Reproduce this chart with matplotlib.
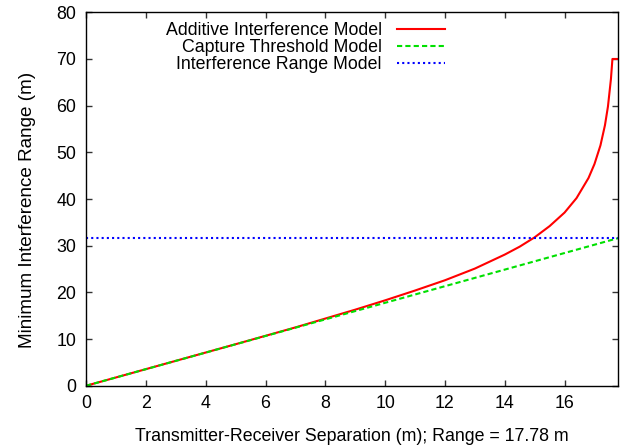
import matplotlib
matplotlib.use("Agg")
import matplotlib.pyplot as plt

# separation d (m) and minimum interference range (m)
sep_additive = [0, 1, 2, 3, 4, 5, 6, 7, 8, 9, 10, 11, 12, 13, 14, 14.5, 15,
                15.5, 16, 16.4, 16.8, 17.0, 17.2, 17.35, 17.45, 17.55, 17.6, 17.78]
rng_additive = [0, 1.78, 3.56, 5.34, 7.12, 8.9, 10.7, 12.5, 14.4, 16.3, 18.3,
                20.4, 22.6, 25.1, 28.1, 29.8, 31.8, 34.2, 37.1, 40.2, 44.5,
                47.5, 51.5, 55.8, 59.8, 65.7, 70.0, 70.0]
sep_capture = [0, 17.78]
rng_capture = [0, 31.6]
sep_range = [0, 17.78]
rng_range = [31.6, 31.6]

FS = 12.8
plt.rcParams["font.family"] = ["Liberation Sans", "DejaVu Sans"]

fig = plt.figure(figsize=(6.33, 4.47), dpi=100)
ax = fig.add_axes([0.136, 0.137, 0.840, 0.8355])

ax.plot(sep_additive, rng_additive, color="#ff0000", lw=1.5,
        label="Additive Interference Model")
ax.plot(sep_capture, rng_capture, color="#00e000", lw=1.5,
        linestyle=(0, (2.5, 1.5)), label="Capture Threshold Model")
ax.plot(sep_range, rng_range, color="#0000ff", lw=1.5,
        linestyle=(0, (1, 1.5)), label="Interference Range Model")

ax.set_xlim(0, 17.78)
ax.set_ylim(0, 80)
ax.set_xticks(range(0, 17, 2))
ax.set_yticks(range(0, 81, 10))
ax.tick_params(direction="in", length=4.5, width=1, top=True, right=True,
               labelsize=FS, pad=7, color="#333333")
for s in ax.spines.values():
    s.set_linewidth(1)

ax.set_xlabel("Transmitter-Receiver Separation (m); Range = 17.78 m",
              fontsize=FS, labelpad=11)
ax.set_ylabel("Minimum Interference Range (m)", fontsize=13.6)
ax.yaxis.set_label_coords(-0.095, 0.47)

leg = ax.legend(loc="upper right", bbox_to_anchor=(0.675, 0.973),
                frameon=False, markerfirst=False, fontsize=FS,
                handlelength=2.7, handletextpad=0.85, labelspacing=0.0,
                borderpad=0, borderaxespad=0)

fig.savefig("out.png", dpi=100)
